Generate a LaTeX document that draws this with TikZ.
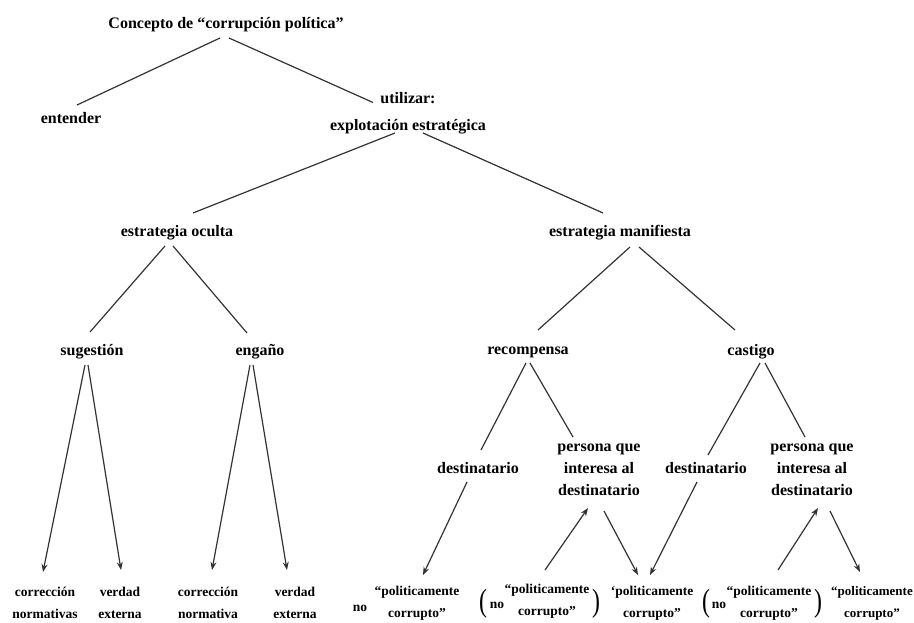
\documentclass[tikz,border=0pt]{standalone}
\usepackage{fontspec}
\setmainfont{Liberation Serif}
\usetikzlibrary{arrows.meta}
\newcommand{\bigpar}[1]{\scalebox{1.7}[2.3]{\fontsize{14}{14}\selectfont #1}}
\begin{document}
\begin{tikzpicture}[x=1pt,y=-1pt,
  lbl/.style={inner sep=0pt,font=\bfseries\fontsize{16}{22}\selectfont,align=center},
  sml/.style={inner sep=0pt,font=\bfseries\fontsize{13.5}{22}\selectfont,align=center},
  par/.style={inner sep=0pt},
  ln/.style={draw=black!80,line width=1.2pt},
  arr/.style={ln,-{Stealth[length=8pt,width=6pt]}}]
\useasboundingbox (0,0) rectangle (914,623);
% nodes
\node[lbl] (title) at (226,25) {Concepto de “corrupción política”};
\node[lbl] (entender) at (71,118) {entender};
\node[lbl,font=\bfseries\fontsize{16}{27}\selectfont] (util) at (408,113.5) {utilizar:\\explotación estratégica};
\node[lbl] (oculta) at (177,233) {estrategia oculta};
\node[lbl] (manif) at (620,233) {estrategia manifiesta};
\node[lbl] (suge) at (92,352) {sugestión};
\node[lbl] (engano) at (260,352) {engaño};
\node[lbl] (recomp) at (528,352) {recompensa};
\node[lbl] (castigo) at (751,352) {castigo};
\node[lbl] (dest1) at (478,468) {destinatario};
\node[lbl] (pers1) at (599,470) {persona que\\interesa al\\destinatario};
\node[lbl] (dest2) at (706,468) {destinatario};
\node[lbl] (pers2) at (812,470) {persona que\\interesa al\\destinatario};
\node[sml] (b1) at (45,603) {corrección\\normativas};
\node[sml] (b2) at (120,603) {verdad\\externa};
\node[sml] (b3) at (208,603) {corrección\\normativa};
\node[sml] (b4) at (295,603) {verdad\\externa};
\node[sml] (no1) at (360,608) {no};
\node[sml] (p1) at (417,603) {“politicamente\\corrupto”};
\node[sml] (no2) at (497,605) {no};
\node[sml] (p2) at (547,601) {“politicamente\\corrupto”};
\node[sml] (p3) at (652,603) {‘politicamente\\corrupto”};
\node[sml] (no3) at (719,605) {no};
\node[sml] (p4) at (769,603) {“politicamente\\corrupto”};
\node[sml,font=\bfseries\fontsize{13}{22}\selectfont] (p5) at (872,603) {“politicamente\\corrupto”};
\node[par] (lp1) at (483,604) {\bigpar{(}};
\node[par] (rp1) at (596,604) {\bigpar{)}};
\node[par] (lp2) at (706,604) {\bigpar{(}};
\node[par] (rp2) at (818,604) {\bigpar{)}};
% connectors
\draw[ln] ([shift={(-6,13)}]title.center) -- ([shift={(6,-13)}]entender.center);
\draw[ln] ([shift={(3,13)}]title.center) -- ([shift={(-35,-11)}]util.center);
\draw[ln] ([shift={(-13,19.5)}]util.center) -- ([shift={(16,-20)}]oculta.center);
\draw[ln] ([shift={(15,19.5)}]util.center) -- ([shift={(-17,-20)}]manif.center);
\draw[ln] ([shift={(-12,13)}]oculta.center) -- ([shift={(-2,-20)}]suge.center);
\draw[ln] ([shift={(-4,13)}]oculta.center) -- ([shift={(-13,-19)}]engano.center);
\draw[ln] ([shift={(10,14)}]manif.center) -- ([shift={(10,-22)}]recomp.center);
\draw[ln] ([shift={(19,14)}]manif.center) -- ([shift={(-16,-22)}]castigo.center);
\draw[arr] ([shift={(-7,13)}]suge.center) -- ([shift={(-2,-31)}]b1.center);
\draw[arr] ([shift={(-4,13)}]suge.center) -- ([shift={(1,-33)}]b2.center);
\draw[arr] ([shift={(-10,13)}]engano.center) -- ([shift={(4,-33)}]b3.center);
\draw[arr] ([shift={(-7,13)}]engano.center) -- ([shift={(-8,-33)}]b4.center);
\draw[ln] ([shift={(-2,11)}]recomp.center) -- ([shift={(3,-18)}]dest1.center);
\draw[ln] ([shift={(2,11)}]recomp.center) -- ([shift={(-26,-33)}]pers1.center);
\draw[ln] ([shift={(9,11)}]castigo.center) -- ([shift={(2,-13)}]dest2.center);
\draw[ln] ([shift={(14,11)}]castigo.center) -- ([shift={(-7,-33)}]pers2.center);
\draw[arr] ([shift={(-11,14)}]dest1.center) -- ([shift={(6,-28)}]p1.center);
\draw[arr] ([shift={(-2,-31)}]p2.center) -- ([shift={(-11,38)}]pers1.center);
\draw[arr] ([shift={(5,41)}]pers1.center) -- ([shift={(-14,-28)}]p3.center);
\draw[arr] ([shift={(-9,14)}]dest2.center) -- ([shift={(-2,-28)}]p3.center);
\draw[arr] ([shift={(9,-33)}]p4.center) -- ([shift={(6,38)}]pers2.center);
\draw[arr] ([shift={(18,41)}]pers2.center) -- ([shift={(-12,-31)}]p5.center);
\end{tikzpicture}
\end{document}
